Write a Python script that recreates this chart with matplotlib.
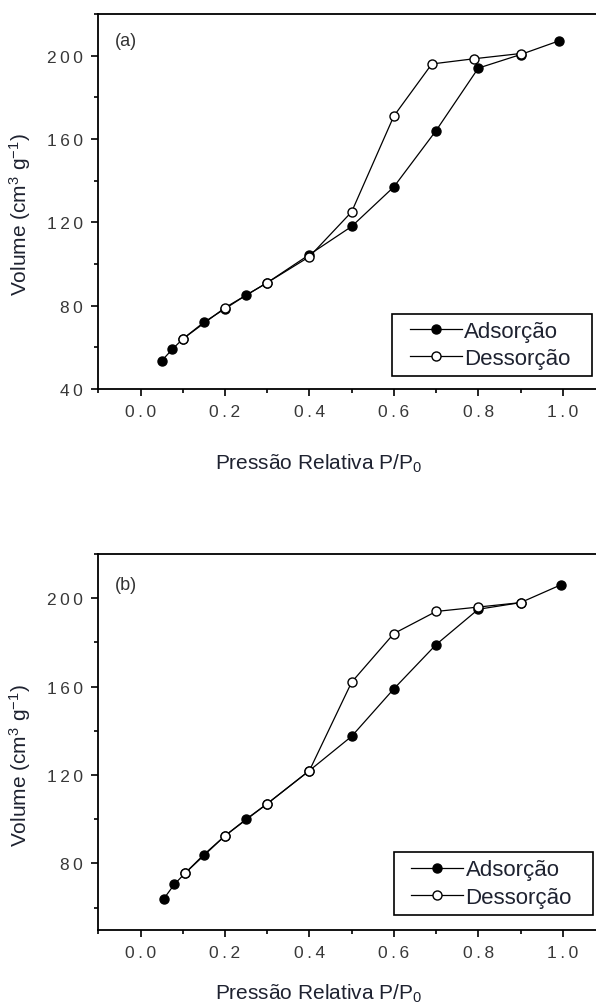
import matplotlib
matplotlib.use("Agg")
import matplotlib.pyplot as plt
from matplotlib.ticker import MultipleLocator, FuncFormatter
from matplotlib.patches import Rectangle

plt.rcParams['font.family'] = ['Liberation Sans', 'DejaVu Sans']
plt.rcParams['mathtext.fontset'] = 'custom'
plt.rcParams['mathtext.rm'] = 'Liberation Sans'
plt.rcParams['mathtext.default'] = 'regular'

# (a) isotherm
ads_a_x = [0.05, 0.075, 0.1, 0.15, 0.2, 0.25, 0.3, 0.4, 0.5, 0.6, 0.7, 0.8, 0.9, 0.99]
ads_a_y = [53.5, 59, 64, 72, 78.5, 85, 91, 104.5, 118, 137, 164, 194, 200.5, 207]
des_a_x = [0.9, 0.79, 0.69, 0.6, 0.5, 0.4, 0.3, 0.2, 0.1]
des_a_y = [201, 198.5, 196, 171, 125, 103.5, 91, 79, 64]

# (b) isotherm
ads_b_x = [0.055, 0.08, 0.105, 0.15, 0.2, 0.25, 0.3, 0.4, 0.5, 0.6, 0.7, 0.8, 0.9, 0.995]
ads_b_y = [64, 70.5, 75.5, 84, 92.5, 100, 107, 122, 137.5, 159, 179, 195, 198, 206]
des_b_x = [0.9, 0.8, 0.7, 0.6, 0.5, 0.4, 0.3, 0.2, 0.105]
des_b_y = [198, 196, 194, 184, 162, 122, 107, 92.5, 75.5]

text_col = '#1e2230'
tick_col = '#383838'


def spaced(fmt):
    # Origin-style wide tick labels
    return FuncFormatter(lambda v, pos: '\u2009'.join(fmt % v))


fig = plt.figure(figsize=(5.96, 10.04), dpi=100)
ax_a = fig.add_axes([0.165, 0.6116, 0.850, 0.3735])
ax_b = fig.add_axes([0.165, 0.073, 0.850, 0.3742])

panels = [
    (ax_a, ads_a_x, ads_a_y, des_a_x, des_a_y, (40, 220), '(a)', 0.929, 0.467, -0.168,
     (0.580, 0.035, 0.394, 0.165)),
    (ax_b, ads_b_x, ads_b_y, des_b_x, des_b_y, (50, 220), '(b)', 0.92, 0.438, -0.139,
     (0.583, 0.039, 0.394, 0.168)),
]

for ax, ax_x, ax_y, dx, dy, ylim, tag, tag_y, ylab_y, xlab_y, box in panels:
    ax.plot(ax_x, ax_y, '-o', color='black', lw=0.9, ms=6.5, mfc='black', mec='black',
            label='Adsorção', zorder=2)
    ax.plot(dx, dy, '-o', color='black', lw=0.9, ms=6.5, mfc='white', mec='black',
            mew=1.0, label='Dessorção', zorder=3)

    ax.set_xlim(-0.1, 1.1)
    ax.set_ylim(*ylim)
    ax.xaxis.set_major_locator(MultipleLocator(0.2))
    ax.xaxis.set_minor_locator(MultipleLocator(0.1))
    ax.yaxis.set_major_locator(MultipleLocator(40))
    ax.yaxis.set_minor_locator(MultipleLocator(20))
    ax.xaxis.set_major_formatter(spaced('%.1f'))
    ax.yaxis.set_major_formatter(spaced('%d'))

    ax.tick_params(which='major', direction='out', length=5, width=1.2,
                   labelsize=12.5, labelcolor=tick_col, pad=6)
    ax.tick_params(which='minor', direction='out', length=3, width=1.2)
    for s in ax.spines.values():
        s.set_linewidth(1.3)

    ax.text(0.033, tag_y, tag, transform=ax.transAxes, fontsize=13,
            color='#333333', va='center', ha='left')

    ax.set_ylabel('Volume (cm$^{3}$ g$^{-1}$)', fontsize=15, color=text_col)
    ax.yaxis.set_label_coords(-0.129, ylab_y)
    ax.set_xlabel('Pressão Relativa P/P$_{0}$', fontsize=15, color=text_col)
    ax.xaxis.set_label_coords(0.435, xlab_y)

    # legend frame with wide side margins
    bx, by, bw, bh = box
    ax.add_patch(Rectangle((bx, by), bw, bh, transform=ax.transAxes, fill=False,
                           edgecolor='black', lw=1.2, zorder=5))
    leg = ax.legend(loc='center', bbox_to_anchor=(bx + bw / 2 - 0.004, by + bh / 2),
                    fontsize=16, frameon=False, handlelength=2.35,
                    handletextpad=0.1, borderpad=0.0, labelspacing=0.28,
                    borderaxespad=0.0)
    for t in leg.get_texts():
        t.set_color(text_col)

fig.savefig('out.png', dpi=100)
